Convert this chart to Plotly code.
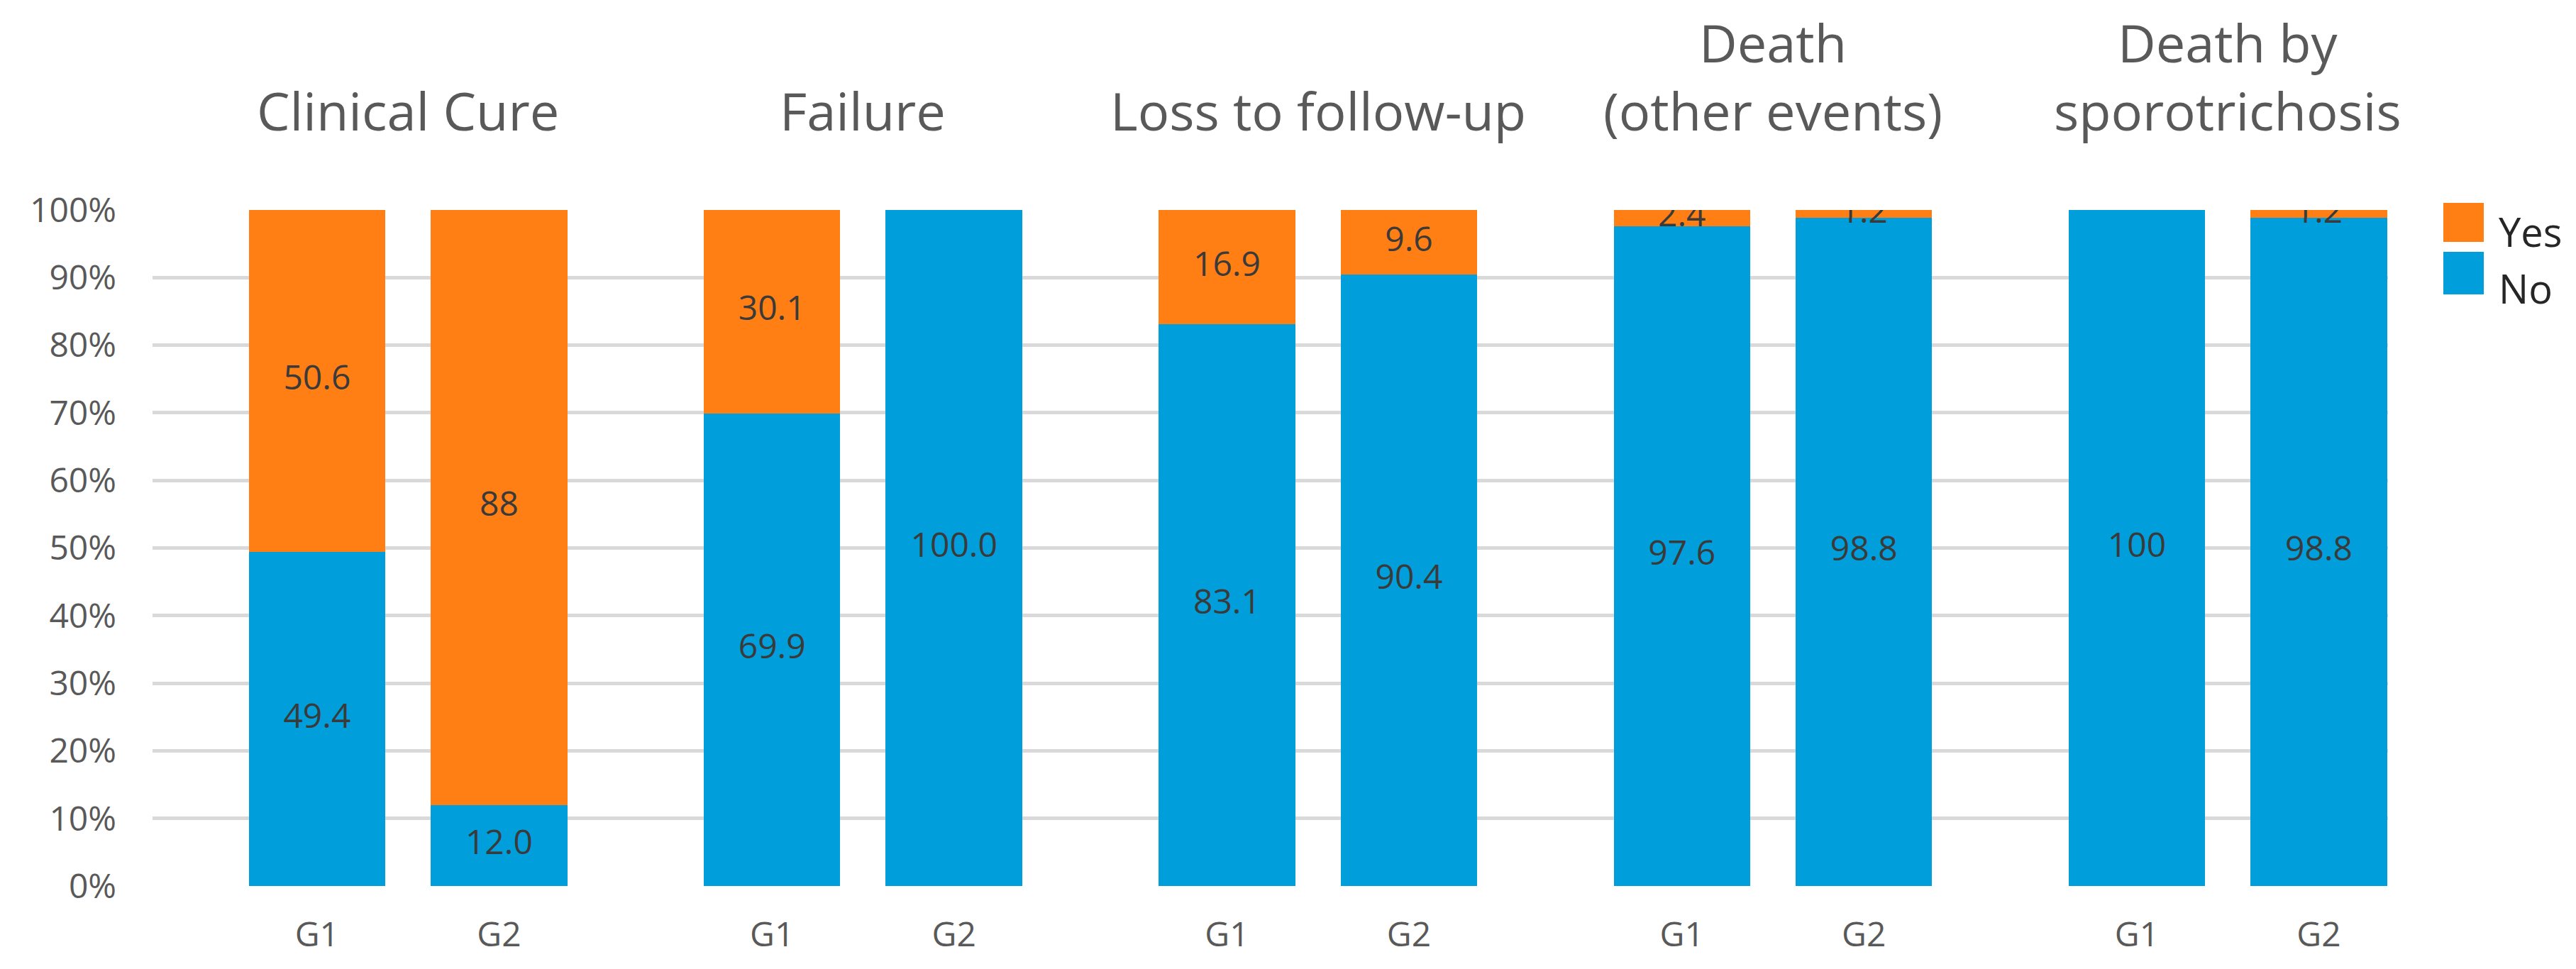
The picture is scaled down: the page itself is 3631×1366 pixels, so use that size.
import plotly.graph_objects as go

# ---- data ----
outcomes = ["Clinical Cure", "Failure", "Loss to follow-up",
            "Death<br>(other events)", "Death by<br>sporotrichosis"]
groups = ["G1", "G2"]
no_values = [49.4, 12.0, 69.9, 100.0, 83.1, 90.4, 97.6, 98.8, 100.0, 98.8]
yes_values = [50.6, 88.0, 30.1, 0.0, 16.9, 9.6, 2.4, 1.2, 0.0, 1.2]
no_labels = ["49.4", "12.0", "69.9", "100.0", "83.1", "90.4", "97.6", "98.8", "100", "98.8"]
yes_labels = ["50.6", "88", "30.1", "", "16.9", "9.6", "2.4", "1.2", "", "1.2"]
y_ticks = [0, 10, 20, 30, 40, 50, 60, 70, 80, 90, 100]

# ---- style ----
W, H = 3631, 1366
ML, MR, MT, MB = 207, 273, 288, 125
ORANGE = "#FF7F14"
BLUE = "#009FDB"
GRID = "#D9D9D9"
TXT = "#595959"
LBL = "#3A3A3A"
FONT = "Open Sans"
GROUP_STEP = 2.5

xpos = [g * GROUP_STEP + s for g in range(len(outcomes)) for s in range(len(groups))]
xtext = [groups[s] for g in range(len(outcomes)) for s in range(len(groups))]
group_centers = [g * GROUP_STEP + 0.5 for g in range(len(outcomes))]

fig = go.Figure()
fig.add_trace(go.Bar(x=xpos, y=no_values, name="No", marker=dict(color=BLUE, line=dict(width=0)),
                     width=0.75, hoverinfo="y"))
fig.add_trace(go.Bar(x=xpos, y=yes_values, name="Yes", marker=dict(color=ORANGE, line=dict(width=0)),
                     width=0.75, hoverinfo="y"))

# data labels centred in each segment
no_mid = [v / 2 for v in no_values]
yes_mid = [n + y / 2 for n, y in zip(no_values, yes_values)]
fig.add_trace(go.Scatter(x=xpos, y=no_mid, mode="text", text=no_labels,
                         textfont=dict(family=FONT, size=48, color=LBL), hoverinfo="skip"))
fig.add_trace(go.Scatter(x=xpos, y=yes_mid, mode="text", text=yes_labels,
                         textfont=dict(family=FONT, size=48, color=LBL), hoverinfo="skip"))

plot_w = W - ML - MR
plot_h = H - MT - MB

annotations = []
for name, cx in zip(outcomes, group_centers):
    annotations.append(dict(x=cx, xref="x", y=(H - MB - 200) / plot_h, yref="paper",
                            text=name, showarrow=False, yanchor="bottom", xanchor="center",
                            font=dict(family=FONT, size=74, color=TXT)))

# manual legend (large square keys as in the reference)
def px_x(p):
    return (p - ML) / plot_w

def px_y(p):
    return (H - MB - p) / plot_h

shapes = [
    dict(type="rect", xref="paper", yref="paper", x0=px_x(3436), x1=px_x(3493),
         y0=px_y(333), y1=px_y(278), fillcolor=ORANGE, line=dict(width=0)),
    dict(type="rect", xref="paper", yref="paper", x0=px_x(3436), x1=px_x(3493),
         y0=px_y(407), y1=px_y(347), fillcolor=BLUE, line=dict(width=0)),
]
annotations.append(dict(x=px_x(3512), xref="paper", y=px_y(318), yref="paper", text="Yes",
                        showarrow=False, xanchor="left", yanchor="middle",
                        font=dict(family=FONT, size=56, color="#262626")))
annotations.append(dict(x=px_x(3512), xref="paper", y=px_y(398), yref="paper", text="No",
                        showarrow=False, xanchor="left", yanchor="middle",
                        font=dict(family=FONT, size=56, color="#262626")))

fig.update_layout(
    width=W, height=H,
    margin=dict(l=ML, r=MR, t=MT, b=MB),
    barmode="stack",
    plot_bgcolor="white", paper_bgcolor="white",
    showlegend=False,
    annotations=annotations,
    shapes=shapes,
    font=dict(family=FONT, color=TXT),
)
fig.update_xaxes(range=[-0.904, 11.38], tickvals=xpos, ticktext=xtext,
                 showgrid=False, zeroline=False, showline=False, ticks="",
                 tickfont=dict(family=FONT, size=48, color=TXT), ticklabelstandoff=36)
fig.update_yaxes(range=[0, 100], tickvals=y_ticks, ticktext=[f"{t}%" for t in y_ticks],
                 showgrid=True, gridcolor=GRID, gridwidth=5, zeroline=False, showline=False,
                 ticks="", tickfont=dict(family=FONT, size=48, color=TXT), ticklabelstandoff=50,
                 layer="below traces")

fig.write_html("out.html")
